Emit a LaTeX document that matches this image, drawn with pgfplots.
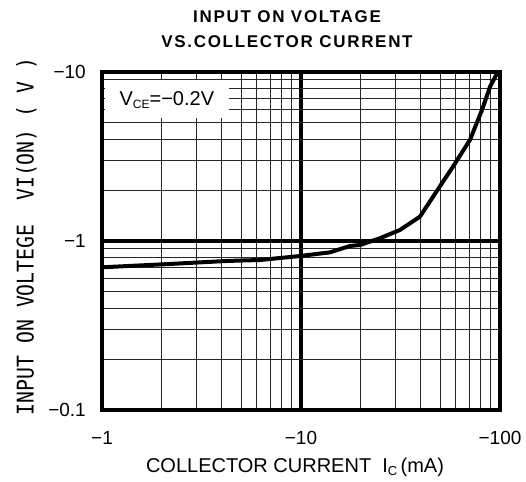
\documentclass[border=0pt]{standalone}
\usepackage{pgfplots}
\pgfplotsset{compat=1.18}
\usepackage{fontspec}
\setmainfont{Liberation Sans}
\newfontfamily\titlefont{Liberation Sans}[LetterSpace=10]
\newfontfamily\ylabfont{DejaVu Sans Mono}[FakeStretch=0.86]
\begin{document}
\begin{tikzpicture}
\useasboundingbox (0,0) rectangle (526pt,481pt);
\begin{axis}[
  at={(102pt,71pt)}, anchor=south west,
  scale only axis, width=398pt, height=338pt,
  xmode=log, ymode=log,
  xmin=1, xmax=100, ymin=0.1, ymax=10,
  xtick={1,10,100}, xticklabels={−1,−10,−100},
  ytick={0.1,1,10}, yticklabels={−0.1,−1,−10},
  major tick length=0pt, minor tick length=0pt,
  grid=both,
  major grid style={line width=3.3pt, black},
  minor grid style={line width=1pt, black!85},
  axis line style={line width=4.5pt, black},
  /pgf/number format/assume math mode=true,
  tick label style={font=\fontsize{19}{22}\selectfont},
  xticklabel style={anchor=base, inner sep=0pt, yshift=-34pt},
  yticklabel style={anchor=east, inner sep=0pt, xshift=-16pt},
  clip=false,
]
\addplot[black, line width=4pt, line join=round] coordinates {
 (1,0.699) (2.03,0.728) (4.25,0.762) (6.22,0.772) (9.89,0.815)
 (14.0,0.857) (17.6,0.934) (19.8,0.947) (24.9,1.038) (31.4,1.162)
 (39.6,1.393) (46.1,1.83) (58.0,2.75) (70.6,3.96) (81.2,5.96)
 (89.1,8.18) (97.5,10)
};
\node[fill=white, inner sep=0pt, minimum width=124pt, minimum height=38pt, anchor=north west]
  at ([xshift=2.3pt]rel axis cs:0,0.976) {};
\node[inner sep=0pt, font=\fontsize{20}{24}\selectfont] at (rel axis cs:0.163,0.917)
  {V\raisebox{-3pt}{\fontsize{12}{14}\selectfont CE}=−0.2V};
\end{axis}
\node[align=center, font=\titlefont\bfseries\fontsize{17}{25}\selectfont] at (287pt,451.5pt)
  {INPUT ON VOLTAGE\\VS.COLLECTOR CURRENT};
\node[anchor=base, inner sep=0pt, font=\fontsize{20}{24}\selectfont] at (295pt,9pt)
  {COLLECTOR CURRENT\ \ I\raisebox{-3pt}{\fontsize{13}{15}\selectfont C}\,(mA)};
\node[rotate=90, inner sep=0pt, font=\ylabfont\fontsize{23}{26}\selectfont] at (26.5pt,244.5pt)
  {INPUT~ON~VOLTEGE~~VI(ON)~(~V~)};
\end{tikzpicture}
\end{document}
